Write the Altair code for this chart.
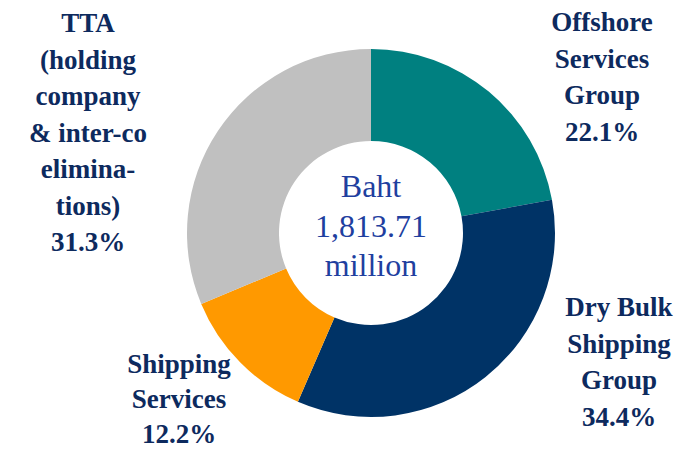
import altair as alt
import pandas as pd

segments = ["Offshore Services Group", "Dry Bulk Shipping Group", "Shipping Services",
            "TTA (holding company & inter-co eliminations)"]
shares = [22.1, 34.4, 12.2, 31.3]
colors = ["#008080", "#003366", "#FF9900", "#C0C0C0"]
label_texts = [
    ["Offshore", "Services", "Group", "22.1%"],
    ["Dry Bulk", "Shipping", "Group", "34.4%"],
    ["Shipping", "Services", "12.2%"],
    ["TTA", "(holding", "company", "& inter-co", "elimina-", "tions)", "31.3%"],
]
center_text = ["Baht", "1,813.71", "million"]

df = pd.DataFrame({"segment": segments, "share": shares, "idx": list(range(len(segments)))})

CX, CY = 363, 225
donut = alt.Chart(df).mark_arc(radius=184, radius2=92, stroke=None).encode(
    theta=alt.Theta("share:Q", stack=True),
    order=alt.Order("idx:Q"),
    color=alt.Color("segment:N", scale=alt.Scale(domain=segments, range=colors), legend=None),
    x=alt.value(CX), y=alt.value(CY),
)

FONT = "Liberation Serif"
label_pos = [(594, 15), (611, 300), (171, 357), (80, 16)]
line_heights = [36.5, 36.5, 35, 36.5]
layers = [donut]
one = pd.DataFrame({"a": [0]})
for lines, (lx, ly), lh in zip(label_texts, label_pos, line_heights):
    layers.append(
        alt.Chart(one).mark_text(
            text="\n".join(lines), lineBreak="\n", font=FONT, fontSize=27, fontWeight="bold",
            color="#0D2A5E", align="center", baseline="middle", lineHeight=lh,
        ).encode(x=alt.value(lx), y=alt.value(ly))
    )
layers.append(
    alt.Chart(one).mark_text(
        text="\n".join(center_text), lineBreak="\n", font=FONT, fontSize=32,
        color="#1F3F9F", align="center", baseline="middle", lineHeight=39.5,
    ).encode(x=alt.value(CX), y=alt.value(179))
)

chart = alt.layer(*layers).properties(
    width=675, height=443, padding=0, autosize=alt.AutoSizeParams(type="none")
).configure_view(stroke=None)

chart.save("out.html", embed_options={"renderer": "svg", "actions": False})
